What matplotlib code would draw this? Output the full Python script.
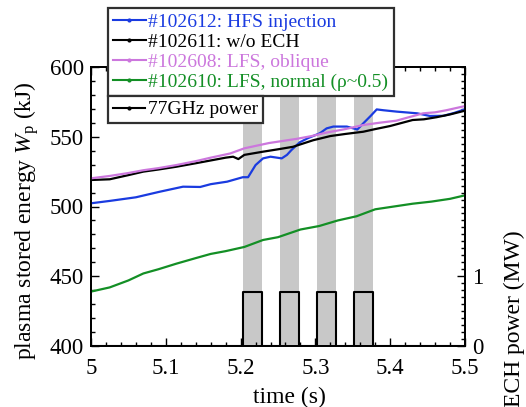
import matplotlib
matplotlib.use("Agg")
import matplotlib.pyplot as plt
from matplotlib.lines import Line2D
from matplotlib.ticker import MultipleLocator, FuncFormatter, FixedLocator

plt.rcParams["font.family"] = ["Liberation Serif", "DejaVu Serif"]
plt.rcParams["mathtext.fontset"] = "custom"
plt.rcParams["mathtext.rm"] = "Liberation Serif"
plt.rcParams["mathtext.it"] = "Liberation Serif:italic"

# Stored energy traces (time in s, W_p in kJ)
t_hfs = [5.00, 5.025, 5.06, 5.092, 5.123, 5.146, 5.16, 5.182, 5.203, 5.21, 5.22, 5.23,
         5.24, 5.255, 5.262, 5.268, 5.279, 5.29, 5.306, 5.315, 5.324, 5.342, 5.356,
         5.364, 5.374, 5.382, 5.391, 5.409, 5.436, 5.453, 5.471, 5.485, 5.50]
wp_hfs = [502.3, 504.0, 506.6, 510.6, 514.2, 514.0, 516.0, 517.8, 521.0, 521.0, 529.7, 534.5,
          535.7, 534.5, 537.0, 540.5, 546.0, 549.0, 552.5, 556.0, 557.3, 557.3, 555.2,
          559.6, 565.0, 569.6, 569.0, 568.0, 566.8, 564.9, 565.0, 567.0, 569.7]

t_noech = [5.00, 5.025, 5.05, 5.07, 5.09, 5.114, 5.14, 5.16, 5.18, 5.19, 5.197, 5.205,
           5.23, 5.25, 5.27, 5.297, 5.32, 5.34, 5.364, 5.38, 5.40, 5.43, 5.445, 5.462,
           5.48, 5.50]
wp_noech = [519.0, 519.5, 522.5, 525.0, 526.5, 528.5, 531.0, 533.0, 535.0, 535.7, 534.0, 537.0,
            539.3, 541.0, 542.8, 547.5, 550.5, 552.0, 553.6, 555.5, 557.7, 562.0, 562.5, 564.0,
            566.0, 568.7]

t_oblique = [5.00, 5.025, 5.05, 5.07, 5.09, 5.114, 5.14, 5.16, 5.186, 5.205, 5.238, 5.275,
             5.295, 5.315, 5.34, 5.364, 5.385, 5.408, 5.425, 5.444, 5.46, 5.475, 5.50]
wp_oblique = [520.2, 521.9, 524.0, 526.0, 527.5, 529.7, 532.5, 535.0, 538.0, 541.7, 545.5, 548.5,
              550.5, 553.0, 555.5, 558.4, 560.0, 561.5, 564.0, 566.8, 567.5, 569.0, 572.0]

t_normal = [5.00, 5.025, 5.05, 5.07, 5.09, 5.114, 5.14, 5.16, 5.18, 5.205, 5.23, 5.25,
            5.28, 5.305, 5.33, 5.355, 5.38, 5.405, 5.43, 5.455, 5.48, 5.50]
wp_normal = [439.0, 442.0, 447.0, 452.0, 455.0, 459.0, 463.0, 466.0, 468.0, 471.0, 476.0, 478.0,
             483.5, 486.0, 490.0, 493.0, 498.0, 500.0, 502.0, 503.5, 505.5, 508.0]

labels = ["#102612: HFS injection", "#102611: w/o ECH",
          "#102608: LFS, oblique", "#102610: LFS, normal (\u03c1~0.5)"]
colors = ["#1a3be0", "#000000", "#cc77dd", "#138f25"]

# 77 GHz ECH pulses (s, MW)
pulse_start = [5.203, 5.253, 5.302, 5.352]
pulse_end = [5.228, 5.278, 5.327, 5.377]
pulse_power = [0.77, 0.77, 0.77, 0.77]

fig = plt.figure(figsize=(5.26, 4.07), dpi=100)
ax = fig.add_axes([91 / 526, 1 - 346 / 407, 374 / 526, 279 / 407])
ax2 = ax.twinx()
ax.set_zorder(ax2.get_zorder() + 1)
ax.patch.set_visible(False)

for s, e in zip(pulse_start, pulse_end):
    ax2.axvspan(s, e, color="#c8c8c8", lw=0, zorder=0)

# power trace as a step waveform
pt, pp = [5.0], [0.0]
for s, e, p in zip(pulse_start, pulse_end, pulse_power):
    pt += [s, s, e, e]
    pp += [0.0, p, p, 0.0]
pt.append(5.5)
pp.append(0.0)
ax2.plot(pt, pp, color="black", lw=1.5, zorder=2)

series = [(t_hfs, wp_hfs), (t_noech, wp_noech), (t_oblique, wp_oblique), (t_normal, wp_normal)]
for (t, w), c in zip(series, colors):
    ax.plot(t, w, color=c, lw=1.6)

ax.set_xlim(5.0, 5.5)
ax.set_ylim(400, 600)
ax2.set_ylim(0, 4)

ax.xaxis.set_major_locator(MultipleLocator(0.1))
ax.xaxis.set_minor_locator(MultipleLocator(0.02))
ax.xaxis.set_major_formatter(FuncFormatter(lambda v, _: "%g" % round(v, 3)))
ax.yaxis.set_major_locator(MultipleLocator(50))
ax.yaxis.set_minor_locator(MultipleLocator(10))
ax2.yaxis.set_major_locator(FixedLocator([0, 1]))
ax2.yaxis.set_minor_locator(MultipleLocator(0.1))

ax.tick_params(which="both", direction="in", top=True, right=False, labelsize=16.5, width=1)
ax.tick_params(which="major", length=6)
ax.tick_params(which="minor", length=3)
ax.tick_params(axis="x", pad=9)
ax.tick_params(axis="y", pad=5)
ax2.tick_params(which="both", direction="in", labelsize=16.5, width=1, pad=5)
ax2.tick_params(which="major", length=6)
ax2.tick_params(which="minor", length=3)
for a in (ax, ax2):
    for sp in a.spines.values():
        sp.set_linewidth(1.3)

ax.set_xlabel("time (s)", fontsize=17, va="center")
ax.xaxis.set_label_coords(0.531, -0.185)
ax.set_ylabel("plasma stored energy $W_{\\rm p}$ (kJ)", fontsize=17, va="center")
ax.yaxis.set_label_coords(-0.171, 0.448)
ax2.set_ylabel("ECH power (MW)", fontsize=17, va="center", rotation=90)
ax2.yaxis.set_label_coords(1.131, 0.0986)

handles = [Line2D([], [], color=c, lw=1.5, marker="o", ms=2) for c in colors]
leg1 = fig.legend(handles, labels, loc="upper left", bbox_to_anchor=(108 / 526, 1 - 8 / 407),
                  bbox_transform=fig.transFigure, borderaxespad=0, fontsize=14,
                  handlelength=1.65, handletextpad=0.15, labelspacing=0.12,
                  borderpad=0.28, fancybox=False, framealpha=1, edgecolor="#303030")
leg1.get_frame().set_linewidth(1.6)
for txt, c in zip(leg1.get_texts(), colors):
    txt.set_color(c)

leg2 = fig.legend([Line2D([], [], color="black", lw=1.5, marker="o", ms=2)], ["77GHz power"],
                  loc="upper left", bbox_to_anchor=(108 / 526, 1 - 96 / 407),
                  bbox_transform=fig.transFigure, borderaxespad=0, fontsize=14,
                  handlelength=1.65, handletextpad=0.15, borderpad=0.25,
                  fancybox=False, framealpha=1, edgecolor="#303030")
leg2.get_frame().set_linewidth(1.6)

fig.savefig("out.png", dpi=100)
